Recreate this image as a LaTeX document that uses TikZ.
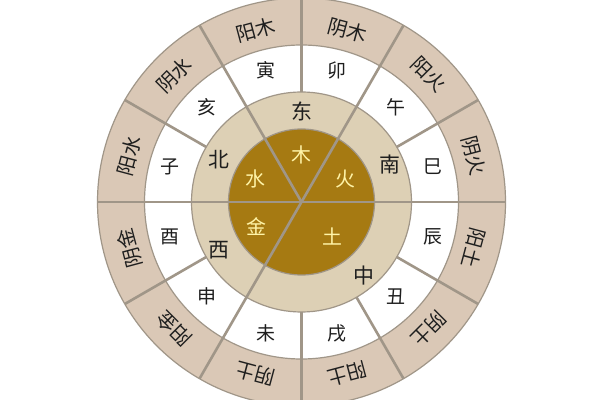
\documentclass[tikz,border=0pt]{standalone}
\usepackage{fontspec}
\newfontfamily\cjk{Noto Sans CJK SC}
\definecolor{ringout}{RGB}{218,200,182}
\definecolor{ringmid}{RGB}{221,208,181}
\definecolor{core}{RGB}{166,122,18}
\definecolor{spoke}{RGB}{160,150,136}
\definecolor{coretext}{RGB}{255,244,168}
\definecolor{ink}{RGB}{30,30,30}
\tikzset{
  spoke/.style={draw=spoke,line width=2.6bp},
  rim/.style={draw=spoke,line width=1.2bp},
  outerlabel/.style={text=ink,font=\cjk\fontsize{20}{20}\selectfont,inner sep=0pt},
  branchlabel/.style={text=ink,font=\cjk\fontsize{19}{19}\selectfont,inner sep=0pt},
  dirlabel/.style={text=ink,font=\cjk\fontsize{21}{21}\selectfont,inner sep=0pt},
  corelabel/.style={text=coretext,font=\cjk\fontsize{20}{20}\selectfont,inner sep=0pt},
}
\begin{document}
\begin{tikzpicture}[line join=bevel,]
\useasboundingbox (0bp,0bp) rectangle (600bp,400bp);
\clip (0bp,0bp) rectangle (600bp,400bp);
\fill[white] (0bp,0bp) rectangle (600bp,400bp);
\begin{scope}[shift={(301.5bp,198bp)}]
\coordinate (center) at (0bp,0bp);
%% rings
\filldraw [fill=ringout,rim] (center) circle (204bp);
\filldraw [fill=white,rim] (center) circle (157bp);
\filldraw [fill=ringmid,rim] (center) circle (110bp);
\filldraw [fill=core,rim] (center) circle (73bp);
%% spokes
\draw [spoke] (center) -- (0:204bp);
\draw [spoke] (center) -- (60:204bp);
\draw [spoke] (center) -- (120:204bp);
\draw [spoke] (center) -- (180:204bp);
\draw [spoke] (center) -- (240:204bp);
\draw [spoke] (30:110bp) -- (30:204bp);
\draw [spoke] (90:110bp) -- (90:204bp);
\draw [spoke] (150:110bp) -- (150:204bp);
\draw [spoke] (210:110bp) -- (210:204bp);
\draw [spoke] (270:110bp) -- (270:204bp);
\draw [spoke] (300:110bp) -- (300:204bp);
\draw [spoke] (330:110bp) -- (330:204bp);
%% outer ring
\node (node_0) at (105:178bp) [outerlabel,rotate=15] {阳木};
  \node (node_1) at (75:178bp) [outerlabel,rotate=-15] {阴木};
  \node (node_2) at (45:180bp) [outerlabel,rotate=-45] {阳火};
  \node (node_3) at (15:178bp) [outerlabel,rotate=-75] {阴火};
  \node (node_4) at (345:178bp) [outerlabel,rotate=-105] {阳土};
  \node (node_5) at (315:180bp) [outerlabel,rotate=-135] {阴土};
  \node (node_6) at (285:178bp) [outerlabel,rotate=-165] {阳土};
  \node (node_7) at (255:178bp) [outerlabel,rotate=165] {阴土};
  \node (node_8) at (225:180bp) [outerlabel,rotate=135] {阳金};
  \node (node_9) at (195:178bp) [outerlabel,rotate=105] {阴金};
  \node (node_10) at (165:178bp) [outerlabel,rotate=75] {阳水};
  \node (node_11) at (135:180bp) [outerlabel,rotate=45] {阴水};
%% branches
\node (node_12) at (105:136bp) [branchlabel] {寅};
  \node (node_13) at (75:136bp) [branchlabel] {卯};
  \node (node_14) at (45:134bp) [branchlabel] {午};
  \node (node_15) at (15:136bp) [branchlabel] {巳};
  \node (node_16) at (345:136bp) [branchlabel] {辰};
  \node (node_17) at (315:134bp) [branchlabel] {丑};
  \node (node_18) at (285:136bp) [branchlabel] {戌};
  \node (node_19) at (255:136bp) [branchlabel] {未};
  \node (node_20) at (225:134bp) [branchlabel] {申};
  \node (node_21) at (195:136bp) [branchlabel] {酉};
  \node (node_22) at (165:136bp) [branchlabel] {子};
  \node (node_23) at (135:134bp) [branchlabel] {亥};
%% directions
\node (node_24) at (0bp,91bp) [dirlabel] {东};
  \node (node_25) at (88.5bp,37bp) [dirlabel] {南};
  \node (node_26) at (-83bp,42bp) [dirlabel] {北};
  \node (node_27) at (-83bp,-48bp) [dirlabel] {西};
  \node (node_28) at (62bp,-74bp) [dirlabel] {中};
%% elements
\node (node_29) at (0bp,47bp) [corelabel] {木};
  \node (node_30) at (44bp,23bp) [corelabel] {火};
  \node (node_31) at (-46bp,23bp) [corelabel] {水};
  \node (node_32) at (-45bp,-25bp) [corelabel] {金};
  \node (node_33) at (31bp,-35bp) [corelabel] {土};
%
\end{scope}
\end{tikzpicture}
\end{document}
